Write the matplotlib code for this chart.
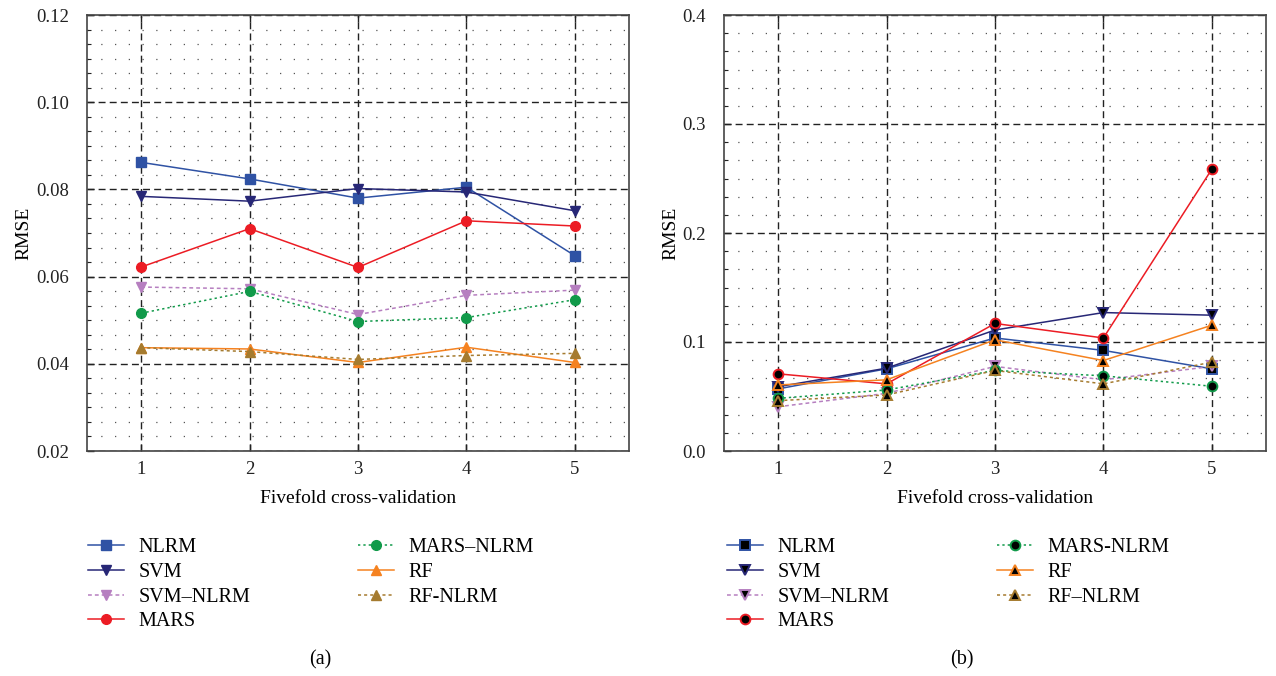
import matplotlib
matplotlib.use("Agg")
import matplotlib.pyplot as plt
from matplotlib.ticker import AutoMinorLocator, FormatStrFormatter

plt.rcParams['font.family'] = ['Liberation Serif', 'DejaVu Serif']

# data
folds = [1, 2, 3, 4, 5]

# panel (a)
a_nlrm = [0.0862, 0.0824, 0.0780, 0.0805, 0.0648]
a_svm = [0.0784, 0.0773, 0.0802, 0.0794, 0.0751]
a_svm_nlrm = [0.0576, 0.0572, 0.0513, 0.0557, 0.0569]
a_mars = [0.0622, 0.0710, 0.0621, 0.0728, 0.0716]
a_mars_nlrm = [0.0516, 0.0566, 0.0497, 0.0506, 0.0547]
a_rf = [0.0437, 0.0434, 0.0403, 0.0438, 0.0403]
a_rf_nlrm = [0.0437, 0.0428, 0.0410, 0.0419, 0.0424]

# panel (b)
b_nlrm = [0.057, 0.0754, 0.1037, 0.0923, 0.0754]
b_svm = [0.059, 0.076, 0.111, 0.127, 0.1246]
b_svm_nlrm = [0.0406, 0.0529, 0.0776, 0.0653, 0.0776]
b_mars = [0.0708, 0.0616, 0.117, 0.1037, 0.2585]
b_mars_nlrm = [0.0483, 0.056, 0.0739, 0.069, 0.0594]
b_rf = [0.0606, 0.0653, 0.102, 0.083, 0.1154]
b_rf_nlrm = [0.0462, 0.0514, 0.0739, 0.0616, 0.0815]

labels_a = ["NLRM", "SVM", "SVM\u2013NLRM", "MARS", "MARS\u2013NLRM", "RF", "RF-NLRM"]
labels_b = ["NLRM", "SVM", "SVM\u2013NLRM", "MARS", "MARS-NLRM", "RF", "RF\u2013NLRM"]

colors = ["#2f52a4", "#272776", "#b67fc0", "#ec1c24", "#119a4a", "#f58220", "#a57b2f"]
markers = ["s", "v", "v", "o", "o", "^", "^"]
styles = ["-", "-", (0, (2.5, 2)), "-", (0, (1.5, 2)), "-", (0, (2, 2))]

fig = plt.figure(figsize=(12.76, 6.76), dpi=100)
ax1 = fig.add_axes([87/1276, 225/676, 542/1276, 436/676])
ax2 = fig.add_axes([724/1276, 225/676, 542/1276, 436/676])


def setup(ax, ylim, major, fmt):
    ax.set_xlim(0.5, 5.5)
    ax.set_ylim(*ylim)
    ax.set_xticks(folds)
    ax.set_yticks([ylim[0] + i * major for i in range(int(round((ylim[1] - ylim[0]) / major)) + 1)])
    ax.yaxis.set_minor_locator(AutoMinorLocator(6))
    ax.yaxis.set_major_formatter(FormatStrFormatter(fmt))
    ax.grid(which='major', axis='both', color='#222222', ls=(0, (5, 3)), lw=1.0)
    ax.grid(which='minor', axis='y', color='#555555', ls=(0, (1, 10)), lw=0.9)
    ax.set_axisbelow(True)
    ax.tick_params(which='both', direction='in', top=True, labelsize=13.5, colors='#222222')
    ax.tick_params(which='major', length=5, width=1)
    ax.tick_params(which='minor', length=3, width=0.8)
    ax.tick_params(axis='x', pad=7)
    ax.tick_params(axis='y', pad=13)
    for s in ax.spines.values():
        s.set_color('#444444')
        s.set_linewidth(1.2)
    ax.set_xlabel("Fivefold cross-validation", fontsize=14, labelpad=9)
    ax.set_ylabel("RMSE", fontsize=14, labelpad=2.5)


setup(ax1, (0.02, 0.12), 0.02, '%.2f')
setup(ax2, (0.0, 0.4), 0.1, '%.1f')

series_a = [a_nlrm, a_svm, a_svm_nlrm, a_mars, a_mars_nlrm, a_rf, a_rf_nlrm]
series_b = [b_nlrm, b_svm, b_svm_nlrm, b_mars, b_mars_nlrm, b_rf, b_rf_nlrm]

for vals, lab, c, m, ls in zip(series_a, labels_a, colors, markers, styles):
    ax1.plot(folds, vals, color=c, ls=ls, lw=1.1, marker=m, ms=7,
             mfc=c, mec=c, label=lab)

for vals, lab, c, m, ls in zip(series_b, labels_b, colors, markers, styles):
    ax2.plot(folds, vals, color=c, ls=ls, lw=1.1, marker=m, ms=7,
             mfc='black', mec=c, mew=1.4, label=lab)

for ax, x0, tag, xc in [(ax1, 70/1276, "(a)", 320/1276), (ax2, 709/1276, "(b)", 962/1276)]:
    ax.legend(loc='upper left', bbox_to_anchor=(x0, 1 - 520/676), bbox_transform=fig.transFigure,
              ncol=2, frameon=False, fontsize=14.5, handlelength=1.8, handletextpad=0.7,
              columnspacing=5.35, labelspacing=0.28)
    fig.text(xc, 1 - 660/676, tag, fontsize=14.5, ha='center', va='center')

fig.savefig("out.png", dpi=100)
